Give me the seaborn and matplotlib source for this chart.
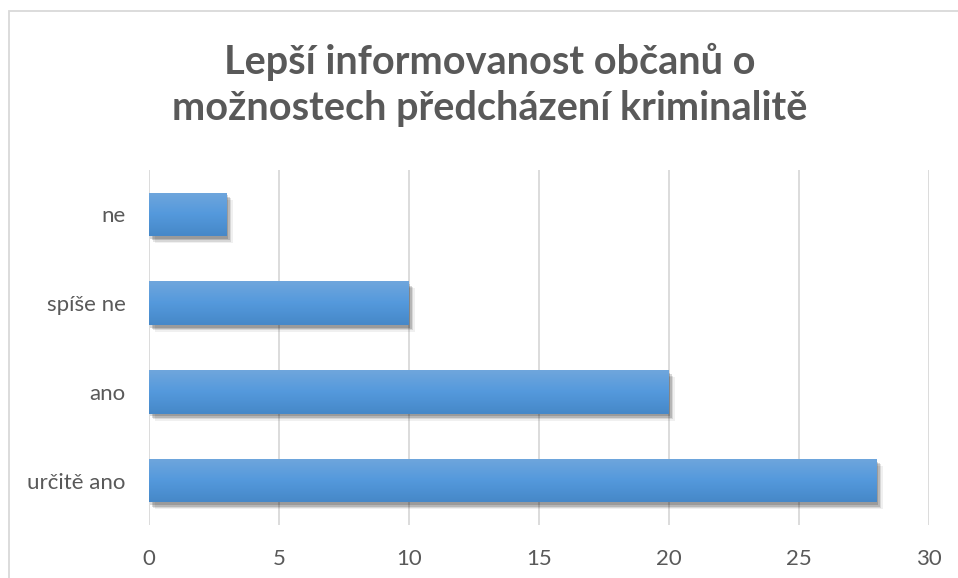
import numpy as np
import pandas as pd
import matplotlib
matplotlib.use("Agg")
import matplotlib.pyplot as plt
import matplotlib.patheffects as pe
from matplotlib.patches import Rectangle
from matplotlib.colors import LinearSegmentedColormap
import seaborn as sns

# data
categories = ["ne", "spíše ne", "ano", "určitě ano"]
counts = [3, 10, 20, 28]
x_ticks = [0, 5, 10, 15, 20, 25, 30]
title = "Lepší informovanost občanů o\nmožnostech předcházení kriminalitě"

TEXT = "#595959"
GRID = "#d9d9d9"

sns.set_theme(style="white")
plt.rcParams["font.family"] = ["Lato", "DejaVu Sans"]

df = pd.DataFrame({"kategorie": categories, "pocet": counts})

fig = plt.figure(figsize=(9.58, 5.78), dpi=100)
ax = fig.add_axes([149 / 958, 1 - 525 / 578, 780 / 958, 355 / 578])

sns.barplot(data=df, y="kategorie", x="pocet", order=categories, orient="h",
            color="#5499dc", width=0.49, saturation=1, linewidth=0, ax=ax, zorder=3)

# gradient fill + soft drop shadow like the office chart
grad = LinearSegmentedColormap.from_list("g", ["#4688c8", "#5499dc", "#6fa6dd"])
for bar in ax.patches:
    bar.set_edgecolor("none")
    bar.set_path_effects([
        pe.SimplePatchShadow(offset=(4, -5), shadow_rgbFace="#000000", alpha=0.06),
        pe.SimplePatchShadow(offset=(3, -4), shadow_rgbFace="#000000", alpha=0.10),
        pe.SimplePatchShadow(offset=(2, -3), shadow_rgbFace="#000000", alpha=0.15),
        pe.SimplePatchShadow(offset=(1, -2), shadow_rgbFace="#000000", alpha=0.15),
        pe.Normal()])
    x0, y0 = bar.get_x(), bar.get_y()
    w, h = bar.get_width(), bar.get_height()
    im = ax.imshow(np.linspace(0, 1, 64).reshape(-1, 1), cmap=grad, aspect="auto",
                   extent=[x0, x0 + w, y0, y0 + h], origin="upper", zorder=4)
    im.set_clip_path(bar)

ax.set_xlim(0, 30)
ax.set_ylim(3.5, -0.5)
ax.set_xticks(x_ticks)
ax.set_xticklabels([str(t) for t in x_ticks])
ax.xaxis.grid(True, color=GRID, linewidth=1.3, zorder=0)
ax.yaxis.grid(False)
ax.set_axisbelow(True)
for s in ax.spines.values():
    s.set_visible(False)
ax.tick_params(axis="both", length=0, colors=TEXT, labelsize=16)
ax.tick_params(axis="x", pad=17)
ax.tick_params(axis="y", pad=17)
ax.set_xlabel("")
ax.set_ylabel("")

fig.text(490 / 958, 1 - 85 / 578, title, ha="center", va="center",
         fontsize=28.5, fontweight="bold", color=TEXT, linespacing=1.32)

# chart frame
fig.patches.append(Rectangle((9 / 958, -0.1), 1.1, 1 - 11 / 578 + 0.1, transform=fig.transFigure,
                             fill=False, edgecolor=GRID, linewidth=1.3))

fig.savefig("out.png", dpi=100, facecolor="white")
